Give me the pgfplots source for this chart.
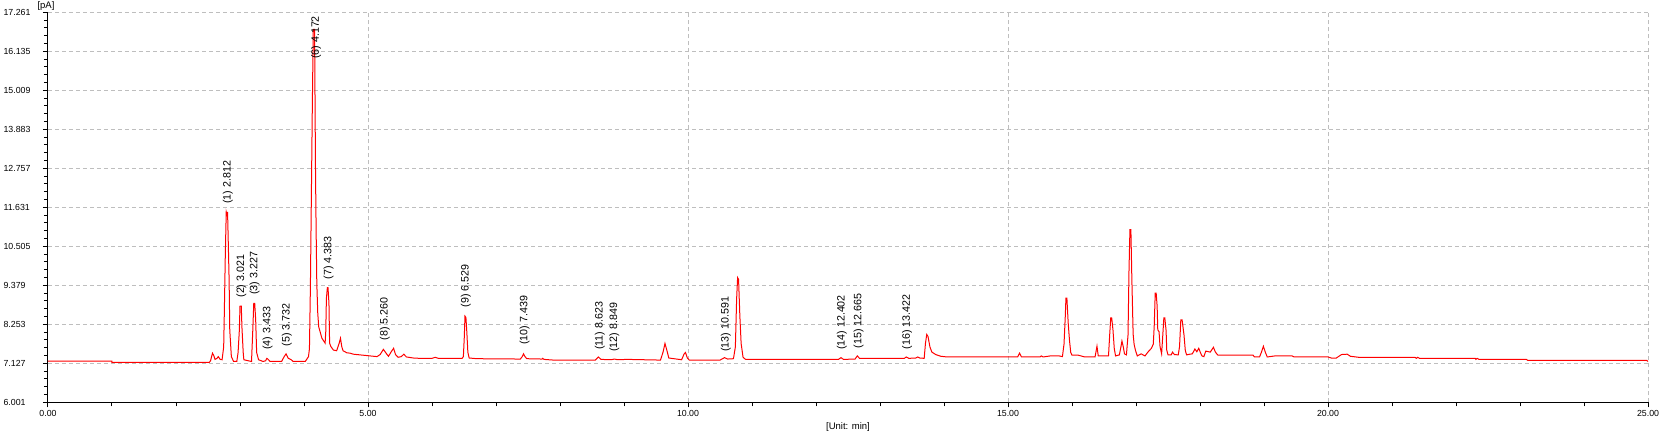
\documentclass[border=0pt]{standalone}
\usepackage{fontspec}
\setmainfont{Liberation Sans}
\usepackage{pgfplots}
\pgfplotsset{compat=1.18}
\definecolor{gridgray}{RGB}{190,190,190}
\begin{document}
\begin{tikzpicture}
\begin{axis}[
  scale only axis, width=1600pt, height=390pt,
  xmin=0, xmax=25, ymin=6.001, ymax=17.261,
  axis x line=bottom, axis y line=left,
  axis line style={-, black, line width=1pt},
  xtick={0,5,10,15,20,25},
  xticklabels={0.00,5.00,10.00,15.00,20.00,25.00},
  minor x tick num=4,
  ytick={6.001,7.127,8.253,9.379,10.505,11.631,12.757,13.883,15.009,16.135,17.261},
  yticklabels={6.001,7.127,8.253,9.379,10.505,11.631,12.757,13.883,15.009,16.135,17.261},
  minor y tick num=4,
  tick align=outside, major tick length=5pt, minor tick length=4pt,
  tick style={black, line width=1pt},
  grid=major,
  major grid style={gridgray, dash pattern=on 4pt off 3pt, line width=1pt},
  ticklabel style={font=\fontsize{8.8}{10}\selectfont, text=black},
  yticklabel style={anchor=west, xshift=-43pt},
  xlabel={[Unit: min]}, ylabel={[pA]},
  every axis x label/.style={at={(rel axis cs:0.5,0)}, anchor=north, yshift=-20pt, inner sep=0pt, font=\fontsize{9.5}{11}\selectfont},
  every axis y label/.style={at={(rel axis cs:0,1)}, anchor=south, yshift=2pt, xshift=-2pt, inner sep=0pt, font=\fontsize{9.5}{11}\selectfont},
  clip=false,
]
\addplot[red, line width=1pt] coordinates {
(0.00,7.19) (1.00,7.19) (1.00,7.156) (2.52,7.156) (2.54,7.20) (2.57,7.42) (2.59,7.35) (2.61,7.24)
(2.64,7.27) (2.66,7.32) (2.69,7.24) (2.72,7.23) (2.745,7.6) (2.755,8.58) (2.77,10.21) (2.785,11.50)
(2.80,11.40) (2.805,11.50) (2.81,11.17) (2.83,9.53) (2.84,8.09) (2.865,7.32) (2.90,7.18) (2.95,7.18)
(2.97,7.44) (2.99,8.09) (3.00,8.78) (3.02,8.78) (3.03,8.18) (3.05,7.44) (3.06,7.23) (3.13,7.20)
(3.18,7.18) (3.20,8.09) (3.215,8.86) (3.23,8.86) (3.245,8.38) (3.26,7.44) (3.29,7.23) (3.36,7.18)
(3.40,7.20) (3.42,7.27) (3.44,7.24) (3.47,7.18) (3.65,7.18) (3.69,7.32) (3.72,7.40) (3.755,7.27)
(3.80,7.23) (3.83,7.18) (4.02,7.18) (4.07,7.32) (4.085,7.55) (4.10,9.34) (4.115,11.93) (4.13,14.54)
(4.145,16.77) (4.165,16.77) (4.18,12.62) (4.19,10.89) (4.20,9.44) (4.215,8.57) (4.23,8.18) (4.28,7.85)
(4.33,7.71) (4.34,8.04) (4.35,9.00) (4.365,9.31) (4.375,9.31) (4.39,8.86) (4.40,7.71) (4.42,7.61)
(4.46,7.51) (4.51,7.49) (4.55,7.71) (4.57,7.85) (4.59,7.61) (4.61,7.49) (4.67,7.43) (4.72,7.42)
(4.77,7.39) (4.93,7.36) (5.14,7.32) (5.19,7.38) (5.24,7.53) (5.29,7.40) (5.32,7.33) (5.37,7.48)
(5.40,7.56) (5.43,7.38) (5.47,7.30) (5.52,7.32) (5.56,7.39) (5.60,7.31) (5.71,7.28) (5.81,7.27)
(6.00,7.27) (6.05,7.30) (6.10,7.27) (6.47,7.27) (6.49,7.32) (6.505,7.9) (6.515,8.49) (6.53,8.45)
(6.545,8.0) (6.56,7.45) (6.58,7.28) (6.70,7.26) (7.38,7.25) (7.41,7.32) (7.43,7.40) (7.45,7.33)
(7.48,7.26) (7.72,7.25) (7.73,7.27) (7.75,7.24) (7.90,7.22) (8.55,7.22) (8.60,7.31) (8.64,7.24)
(8.80,7.23) (8.85,7.25) (8.90,7.23) (9.05,7.24) (9.57,7.22) (9.61,7.45) (9.64,7.70) (9.67,7.50)
(9.70,7.28) (9.90,7.23) (9.94,7.40) (9.96,7.44) (9.99,7.28) (10.02,7.22) (10.50,7.22) (10.57,7.29)
(10.62,7.25) (10.71,7.26) (10.74,7.6) (10.76,9.0) (10.775,9.60) (10.79,9.55) (10.81,8.5) (10.83,7.7)
(10.86,7.30) (10.90,7.24) (12.35,7.24) (12.39,7.29) (12.43,7.24) (12.61,7.25) (12.645,7.34) (12.68,7.27)
(13.38,7.27) (13.41,7.31) (13.45,7.27) (13.56,7.28) (13.59,7.31) (13.62,7.28) (13.69,7.27) (13.71,7.7)
(13.73,7.96) (13.75,7.90) (13.78,7.6) (13.81,7.45) (13.87,7.38) (13.95,7.33) (14.05,7.31) (14.50,7.31)
(15.10,7.31) (15.15,7.31) (15.18,7.42) (15.21,7.31) (15.50,7.31) (15.52,7.34) (15.55,7.31) (15.66,7.34)
(15.80,7.34) (15.85,7.32) (15.875,7.68) (15.895,8.49) (15.905,9.01) (15.92,9.01) (15.94,8.30) (15.96,7.80)
(15.98,7.44) (16.00,7.36) (16.10,7.36) (16.20,7.31) (16.36,7.31) (16.39,7.62) (16.41,7.34) (16.57,7.34)
(16.59,7.99) (16.605,8.44) (16.62,8.44) (16.64,8.09) (16.66,7.56) (16.68,7.34) (16.74,7.37) (16.765,7.61)
(16.78,7.77) (16.80,7.61) (16.82,7.40) (16.85,7.37) (16.875,7.94) (16.89,9.77) (16.905,10.99) (16.92,10.99)
(16.935,9.56) (16.955,7.97) (16.97,7.68) (16.99,7.51) (17.02,7.34) (17.08,7.40) (17.14,7.34) (17.19,7.46)
(17.24,7.56) (17.27,7.68) (17.285,8.23) (17.30,9.15) (17.315,9.15) (17.33,8.78) (17.34,8.09) (17.36,8.04)
(17.375,7.61) (17.40,7.40) (17.42,7.99) (17.435,8.44) (17.45,8.44) (17.47,8.07) (17.48,7.51) (17.50,7.37)
(17.55,7.37) (17.57,7.45) (17.60,7.38) (17.66,7.37) (17.68,7.61) (17.70,8.38) (17.72,8.38) (17.75,7.94)
(17.77,7.50) (17.79,7.37) (17.84,7.39) (17.88,7.40) (17.92,7.54) (17.95,7.46) (17.98,7.56) (18.01,7.42)
(18.03,7.34) (18.06,7.32) (18.09,7.48) (18.16,7.45) (18.21,7.59) (18.24,7.45) (18.28,7.36) (18.46,7.36)
(18.83,7.36) (18.85,7.31) (18.93,7.31) (18.96,7.45) (18.99,7.62) (19.02,7.45) (19.05,7.31) (19.17,7.34)
(19.44,7.34) (19.47,7.31) (20.00,7.31) (20.05,7.28) (20.13,7.28) (20.21,7.38) (20.30,7.39) (20.35,7.33)
(20.48,7.30) (21.36,7.30) (21.38,7.27) (21.40,7.30) (21.43,7.27) (22.30,7.27) (22.31,7.24) (22.33,7.27)
(22.36,7.24) (23.10,7.24) (23.12,7.21) (24.98,7.21) (25.00,7.18)
};
\begin{scope}[every node/.style={rotate=90, anchor=west, inner sep=0pt, font=\fontsize{10.7}{12}\selectfont, text=black}]
\node at (axis cs:2.812,11.73) {(1) 2.812};
\node at (axis cs:3.021,9.02) {(2) 3.021};
\node at (axis cs:3.227,9.10) {(3) 3.227};
\node at (axis cs:3.433,7.51) {(4) 3.433};
\node at (axis cs:3.732,7.61) {(5) 3.732};
\node at (axis cs:4.19,15.91) {(6) 4.172};
\node at (axis cs:4.383,9.55) {(7) 4.383};
\node at (axis cs:5.265,7.78) {(8) 5.260};
\node at (axis cs:6.529,8.74) {(9) 6.529};
\node at (axis cs:7.445,7.66) {(10) 7.439};
\node at (axis cs:8.623,7.51) {(11) 8.623};
\node at (axis cs:8.849,7.46) {(12) 8.849};
\node at (axis cs:10.591,7.46) {(13) 10.591};
\node at (axis cs:12.402,7.51) {(14) 12.402};
\node at (axis cs:12.665,7.56) {(15) 12.665};
\node at (axis cs:13.422,7.53) {(16) 13.422};
\end{scope}
\coordinate (bbll) at (rel axis cs:-0.03,-0.07615);
\coordinate (bbur) at (rel axis cs:1.009375,1.03154);
\end{axis}
\pgfresetboundingbox
\path[use as bounding box] (bbll) rectangle (bbur);
\end{tikzpicture}
\end{document}
